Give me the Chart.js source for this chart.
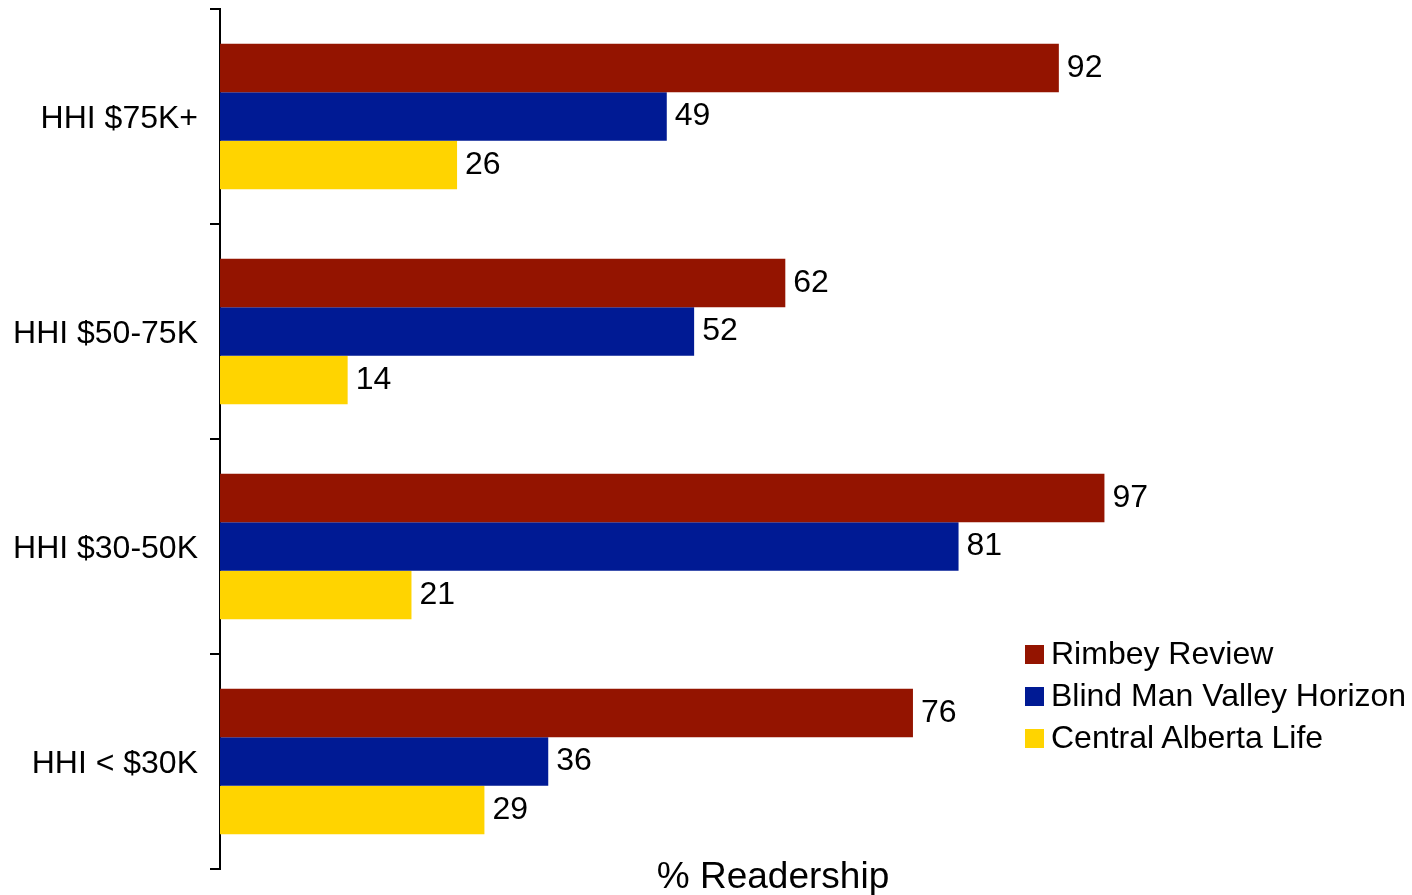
<!DOCTYPE html>
<html>
<head>
<meta charset="utf-8">
<script src="https://cdn.jsdelivr.net/npm/chart.js@4/dist/chart.umd.min.js"></script>
<style>
  html, body { margin: 0; padding: 0; background: #ffffff; }
  #wrap { position: relative; width: 1412px; height: 895px; overflow: hidden; }
  #c { position: absolute; left: 0; top: 0; }
  #legend { position: absolute; left: 1025px; top: 632px; font-family: "Liberation Sans", Arial, sans-serif; font-size: 32px; line-height: 42px; color: #000; white-space: nowrap; }
  #legend .item { height: 42px; }
  #legend .box { display: inline-block; width: 19px; height: 19px; vertical-align: baseline; margin-right: 7px; }
</style>
</head>
<body>
<div id="wrap">
  <canvas id="c" width="1412" height="895"></canvas>
  <div id="legend"></div>
</div>
<script>
const categories = ["HHI $75K+", "HHI $50-75K", "HHI $30-50K", "HHI < $30K"];
const seriesNames = ["Rimbey Review", "Blind Man Valley Horizon", "Central Alberta Life"];
const rimbeyReview = [92, 62, 97, 76];
const blindManValleyHorizon = [49, 52, 81, 36];
const centralAlbertaLife = [26, 14, 21, 29];
const seriesColors = ["#941400", "#001A94", "#FFD400"];
const axisTitle = "% Readership";

const FONT = '"Liberation Sans", Arial, sans-serif';
const seriesValues = [rimbeyReview, blindManValleyHorizon, centralAlbertaLife];

const valueLabels = {
  id: 'valueLabels',
  afterDatasetsDraw(chart) {
    const ctx = chart.ctx;
    ctx.save();
    ctx.font = '32px ' + FONT;
    ctx.fillStyle = '#000';
    ctx.textAlign = 'left';
    ctx.textBaseline = 'middle';
    chart.data.datasets.forEach((ds, i) => {
      const meta = chart.getDatasetMeta(i);
      meta.data.forEach((bar, j) => {
        ctx.fillText(String(ds.data[j]), bar.x + 8, bar.y);
      });
    });
    ctx.restore();
  }
};

new Chart(document.getElementById('c'), {
  type: 'bar',
  data: {
    labels: categories,
    datasets: seriesNames.map((name, i) => ({
      label: name,
      data: seriesValues[i],
      backgroundColor: seriesColors[i],
      borderWidth: 0,
      barPercentage: 1.0,
      categoryPercentage: 0.676
    }))
  },
  options: {
    indexAxis: 'y',
    responsive: false,
    animation: false,
    devicePixelRatio: 1,
    layout: { padding: { top: 9, right: 86, bottom: 0, left: 0 } },
    plugins: {
      legend: { display: false },
      tooltip: { enabled: false }
    },
    scales: {
      x: {
        min: 0,
        max: 121.3,
        ticks: { display: false },
        grid: { display: false },
        border: { display: false },
        title: {
          display: true,
          text: axisTitle,
          color: '#000',
          font: { family: FONT, size: 37, lineHeight: 1.2 },
          padding: { top: 0, bottom: -5 }
        },
        afterFit(scale) {
          scale.height = 26;
          scale.paddingLeft = 0; scale.paddingRight = 0;
          scale.paddingTop = 0; scale.paddingBottom = 0;
        }
      },
      y: {
        offset: true,
        ticks: {
          color: '#000',
          font: { family: FONT, size: 32 },
          padding: 12,
          labelOffset: 3
        },
        grid: {
          display: true,
          offset: true,
          drawOnChartArea: false,
          drawTicks: true,
          tickLength: 10,
          color: '#000',
          lineWidth: 2
        },
        border: { display: true, color: '#000', width: 2 },
        afterFit(scale) {
          scale.width = 220;
          scale.paddingTop = 0; scale.paddingBottom = 0;
          scale.paddingLeft = 0; scale.paddingRight = 0;
        }
      }
    }
  },
  plugins: [valueLabels]
});

const legend = document.getElementById('legend');
seriesNames.forEach((name, i) => {
  const item = document.createElement('div');
  item.className = 'item';
  const box = document.createElement('span');
  box.className = 'box';
  box.style.background = seriesColors[i];
  item.appendChild(box);
  item.appendChild(document.createTextNode(name));
  legend.appendChild(item);
});
</script>
</body>
</html>
